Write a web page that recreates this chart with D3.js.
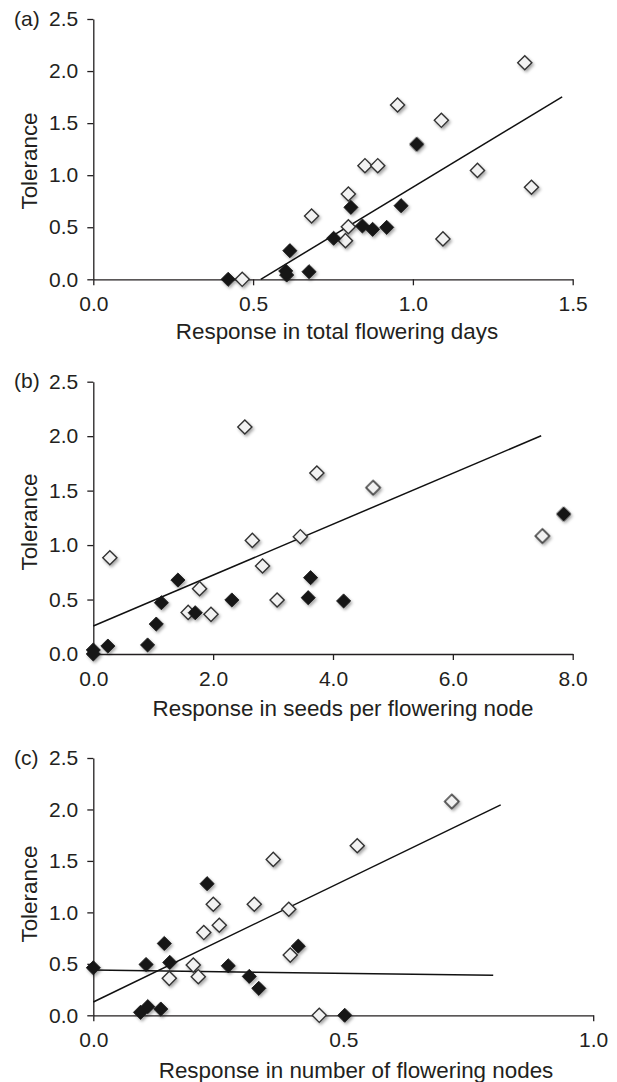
<!DOCTYPE html>
<html><head><meta charset="utf-8">
<script src="https://cdn.jsdelivr.net/npm/d3@7"></script>
<style>
html,body{margin:0;padding:0;background:#fff;}
svg text{font-family:"Liberation Sans",Arial,Helvetica,sans-serif;fill:#231f20;}
</style></head>
<body>
<svg id="chart" width="617" height="1082"></svg>
<script>
// ---------- DATA ----------
const yTicks = [0, 0.5, 1.0, 1.5, 2.0, 2.5];

// Panel (a): response in total flowering days
const aTicksX = [0, 0.5, 1.0, 1.5];
const aOpenX = [0.466, 0.683, 0.789, 0.798, 0.798, 0.850, 0.890, 0.952, 1.089, 1.094, 1.202, 1.350, 1.371];
const aOpenY = [0.00, 0.608, 0.371, 0.819, 0.505, 1.091, 1.091, 1.674, 1.527, 0.388, 1.046, 2.080, 0.884];
const aFillX = [0.422, 0.602, 0.605, 0.615, 0.675, 0.752, 0.806, 0.842, 0.874, 0.918, 0.963, 1.012];
const aFillY = [0.00, 0.080, 0.041, 0.275, 0.073, 0.394, 0.691, 0.512, 0.480, 0.499, 0.707, 1.297];
const aLineX = [0.524, 1.467];
const aLineY = [0.00, 1.753];

// Panel (b): response in seeds per flowering node
const bTicksX = [0, 2, 4, 6, 8];
const bOpenX = [0.276, 1.583, 1.773, 1.964, 2.529, 2.654, 2.824, 3.067, 3.455, 3.731, 4.670, 7.494];
const bOpenY = [0.884, 0.382, 0.600, 0.364, 2.084, 1.043, 0.808, 0.496, 1.077, 1.662, 1.527, 1.083];
const bFillX = [0.00, 0.00, 0.243, 0.906, 1.051, 1.136, 1.412, 1.701, 2.312, 3.586, 3.626, 4.177, 7.849];
const bFillY = [0.037, 0.00, 0.073, 0.083, 0.275, 0.471, 0.679, 0.379, 0.496, 0.517, 0.701, 0.487, 1.285];
const bLineX = [0.00, 7.474];
const bLineY = [0.257, 2.004];

// Panel (c): response in number of flowering nodes
const cTicksX = [0, 0.5, 1.0];
const cOpenX = [0.152, 0.200, 0.210, 0.221, 0.240, 0.252, 0.322, 0.360, 0.391, 0.394, 0.452, 0.528, 0.717];
const cOpenY = [0.359, 0.488, 0.375, 0.804, 1.079, 0.875, 1.079, 1.515, 1.030, 0.585, 0.00, 1.647, 2.077];
const cFillX = [0.00, 0.0945, 0.109, 0.135, 0.1055, 0.142, 0.153, 0.2276, 0.270, 0.312, 0.331, 0.410, 0.503];
const cFillY = [0.462, 0.029, 0.084, 0.061, 0.494, 0.698, 0.514, 1.279, 0.481, 0.378, 0.262, 0.672, 0.00];
const cLine1X = [0.00, 0.815];
const cLine1Y = [0.129, 2.045];
const cLine2X = [0.00, 0.80];
const cLine2Y = [0.439, 0.388];

const panelLabels = ["(a)", "(b)", "(c)"];
const xTitles = ["Response in total flowering days", "Response in seeds per flowering node", "Response in number of flowering nodes"];
const yTitle = "Tolerance";

// ---------- LAYOUT ----------
const panels = [
  {label: panelLabels[0], title: xTitles[0], left: 93.3, right: 572.7, top: 19, bottom: 279.3, xMax: 1.5, xTicks: aTicksX,
   open: aOpenX.map((x,i)=>[x,aOpenY[i]]), fill: aFillX.map((x,i)=>[x,aFillY[i]]),
   lines: [aLineX.map((x,i)=>[x,aLineY[i]])], titleX: 337, titleY: 339, tolY: 161},
  {label: panelLabels[1], title: xTitles[1], left: 93.3, right: 572.7, top: 381.7, bottom: 654, xMax: 8, xTicks: bTicksX,
   open: bOpenX.map((x,i)=>[x,bOpenY[i]]), fill: bFillX.map((x,i)=>[x,bFillY[i]]),
   lines: [bLineX.map((x,i)=>[x,bLineY[i]])], titleX: 343, titleY: 716, tolY: 522},
  {label: panelLabels[2], title: xTitles[2], left: 93.3, right: 593.2, top: 758, bottom: 1015.3, xMax: 1.0, xTicks: cTicksX,
   open: cOpenX.map((x,i)=>[x,cOpenY[i]]), fill: cFillX.map((x,i)=>[x,cFillY[i]]),
   lines: [cLine1X.map((x,i)=>[x,cLine1Y[i]]), cLine2X.map((x,i)=>[x,cLine2Y[i]])], titleX: 356, titleY: 1077.5, tolY: 894}
];

const svg = d3.select("#chart");
const defs = svg.append("defs");
const f = defs.append("filter").attr("id","shadow").attr("x","-50%").attr("y","-50%").attr("width","200%").attr("height","200%");
f.append("feDropShadow").attr("dx",1.5).attr("dy",2).attr("stdDeviation",1.4)
  .attr("flood-color","#000").attr("flood-opacity",0.35);

const diamond = d3.symbol(d3.symbolSquare, 100);
const fmt = d3.format(".1f");

panels.forEach(p => {
  const x = d3.scaleLinear().domain([0, p.xMax]).range([p.left, p.right]);
  const y = d3.scaleLinear().domain([0, 2.5]).range([p.bottom, p.top]);

  const gy = svg.append("g").attr("transform", `translate(${p.left},0)`)
    .call(d3.axisLeft(y).tickValues(yTicks).tickFormat(fmt).tickSize(6).tickSizeOuter(0).tickPadding(9));
  const gx = svg.append("g").attr("transform", `translate(0,${p.bottom})`)
    .call(d3.axisBottom(x).tickValues(p.xTicks).tickFormat(fmt).tickSize(6).tickSizeOuter(0).tickPadding(11));
  [gy, gx].forEach(g => {
    g.selectAll("path.domain").attr("stroke","#231f20").attr("stroke-width",1.3);
    g.selectAll(".tick line").attr("stroke","#231f20").attr("stroke-width",1.3);
    g.selectAll(".tick text").attr("font-size",21).attr("font-family",null).attr("fill","#231f20");
  });

  // panel label
  svg.append("text").attr("x",14).attr("y",p.top).attr("dy","0.32em")
    .attr("font-size",21).text(p.label);

  // axis titles
  svg.append("text").attr("x",p.titleX).attr("y",p.titleY).attr("text-anchor","middle")
    .attr("font-size",22.4).text(p.title);
  svg.append("text").attr("transform",`translate(37,${p.tolY}) rotate(-90)`).attr("text-anchor","middle")
    .attr("font-size",22.4).text(yTitle);

  // regression lines
  const line = d3.line().x(d=>x(d[0])).y(d=>y(d[1]));
  p.lines.forEach(l => {
    svg.append("path").attr("d", line(l)).attr("fill","none").attr("stroke","#111").attr("stroke-width",1.5);
  });

  // open diamonds
  svg.append("g").attr("filter","url(#shadow)").selectAll("path").data(p.open).join("path")
    .attr("d", diamond)
    .attr("transform", d=>`translate(${x(d[0])},${y(d[1])}) rotate(45)`)
    .attr("fill","#f2f2f2").attr("stroke","#333").attr("stroke-width",1.4);
  // filled diamonds
  svg.append("g").attr("filter","url(#shadow)").selectAll("path").data(p.fill).join("path")
    .attr("d", diamond)
    .attr("transform", d=>`translate(${x(d[0])},${y(d[1])}) rotate(45)`)
    .attr("fill","#151515").attr("stroke","#151515").attr("stroke-width",0.8);
});
</script>
</body></html>
